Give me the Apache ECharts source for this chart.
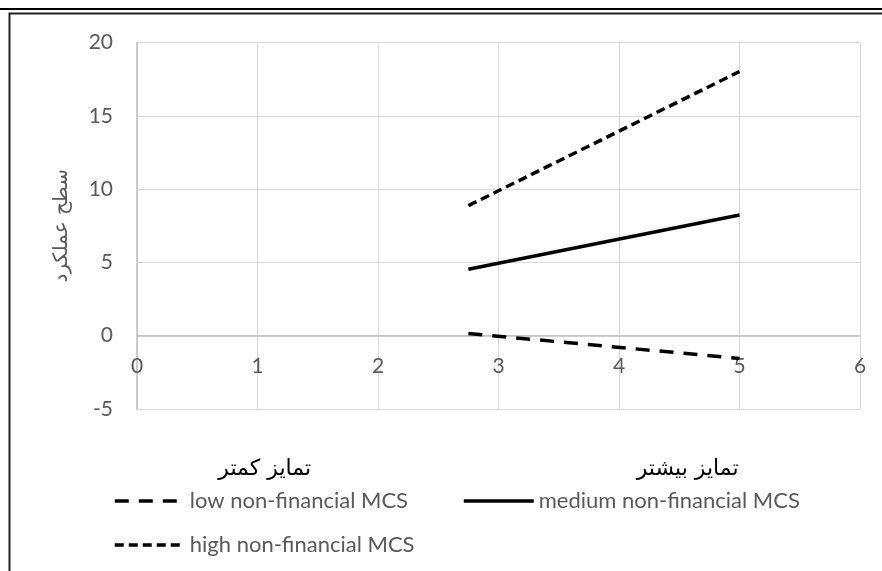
<!DOCTYPE html>
<html>
<head>
<meta charset="utf-8">
<script src="https://cdn.jsdelivr.net/npm/echarts@6/dist/echarts.min.js"></script>
<style>
html,body{margin:0;padding:0;background:#fff;}
#c{width:882px;height:571px;}
</style>
</head>
<body>
<div id="c"></div>
<script>
// ---- data ----
var xValues = [2.75, 5];
var lowValues = [0.15, -1.55];
var mediumValues = [4.53, 8.23];
var highValues = [8.87, 18.02];
var seriesNames = ['low non-financial MCS', 'medium non-financial MCS', 'high non-financial MCS'];
var yAxisTitle = 'سطح عملکرد';
var groupLabels = ['تمایز کمتر', 'تمایز بیشتر'];
var groupLabelX = [1.06, 4.57];

function pairs(ys) { return xValues.map(function (x, i) { return [x, ys[i]]; }); }

var numFont = 'Lato, "Open Sans", sans-serif';
var chart = echarts.init(document.getElementById('c'), null, {renderer: 'canvas'});

function legendAt(name, left, top) {
  return {
    data: [name], left: left, top: top, padding: 0, itemWidth: 70, itemHeight: 14,
    itemGap: 0,
    itemStyle: {color: 'rgba(0,0,0,0)', borderColor: 'rgba(0,0,0,0)', borderWidth: 0, opacity: 0},
    lineStyle: {width: 3.5},
    textStyle: {color: '#595959', fontSize: 22, fontFamily: numFont}
  };
}

var option = {
  animation: false,
  backgroundColor: '#fff',
  grid: {left: 137, right: 22, top: 42.5, bottom: 162, containLabel: false},
  xAxis: {
    type: 'value', min: 0, max: 6, interval: 1,
    axisLine: {show: true, onZero: false, lineStyle: {color: '#bfbfbf', width: 1.5}},
    axisTick: {show: false},
    axisLabel: {color: '#595959', fontSize: 21, fontFamily: numFont, margin: 20},
    splitLine: {show: true, lineStyle: {color: '#d9d9d9', width: 1}}
  },
  yAxis: {
    type: 'value', min: -5, max: 20, interval: 5,
    name: yAxisTitle, nameLocation: 'middle', nameGap: 65, nameRotate: 90,
    nameTextStyle: {color: '#595959', fontSize: 20, fontFamily: '"DejaVu Sans", sans-serif'},
    axisLine: {show: true, onZero: false, lineStyle: {color: '#bfbfbf', width: 1.5}},
    axisTick: {show: false},
    axisLabel: {color: '#595959', fontSize: 21, fontFamily: numFont, margin: 24},
    splitLine: {show: true, lineStyle: {color: '#d9d9d9', width: 1}}
  },
  legend: [
    legendAt(seriesNames[0], 113, 490),
    legendAt(seriesNames[1], 462, 490),
    legendAt(seriesNames[2], 113, 534)
  ],
  series: [
    {name: seriesNames[0], type: 'line', data: pairs(lowValues), symbol: 'none',
     lineStyle: {color: '#000', width: 3.5, type: [14, 10], cap: 'butt'}, itemStyle: {color: '#000'}},
    {name: seriesNames[1], type: 'line', data: pairs(mediumValues), symbol: 'none',
     lineStyle: {color: '#000', width: 3.5, type: 'solid'}, itemStyle: {color: '#000'}},
    {name: seriesNames[2], type: 'line', data: pairs(highValues), symbol: 'none',
     lineStyle: {color: '#000', width: 3.5, type: [9, 5], cap: 'butt'}, itemStyle: {color: '#000'}}
  ],
  graphic: [
    {type: 'line', shape: {x1: 0, y1: 9, x2: 882, y2: 9}, style: {stroke: '#000', lineWidth: 2}},
    {type: 'polyline', shape: {points: [[9.5, 571], [9.5, 13.5], [882, 13.5]]},
     style: {stroke: '#222', lineWidth: 2, fill: null}}
  ]
};
chart.setOption(option);

// move the x axis (line + labels) up to y = 0 through the axis scale
var zeroPx = chart.convertToPixel({yAxisIndex: 0}, 0);
var bottomPx = chart.convertToPixel({yAxisIndex: 0}, -5);
// group labels placed through the axis scale
var gfx = option.graphic.slice();
groupLabels.forEach(function (t, i) {
  var p = chart.convertToPixel({gridIndex: 0}, [groupLabelX[i], 0]);
  gfx.push({type: 'text', x: p[0], y: 469,
    style: {text: t, fill: '#000', font: '22px "DejaVu Sans", sans-serif', textAlign: 'center', textVerticalAlign: 'middle'}});
});
chart.setOption({xAxis: {offset: zeroPx - bottomPx}, graphic: gfx});
</script>
</body>
</html>
